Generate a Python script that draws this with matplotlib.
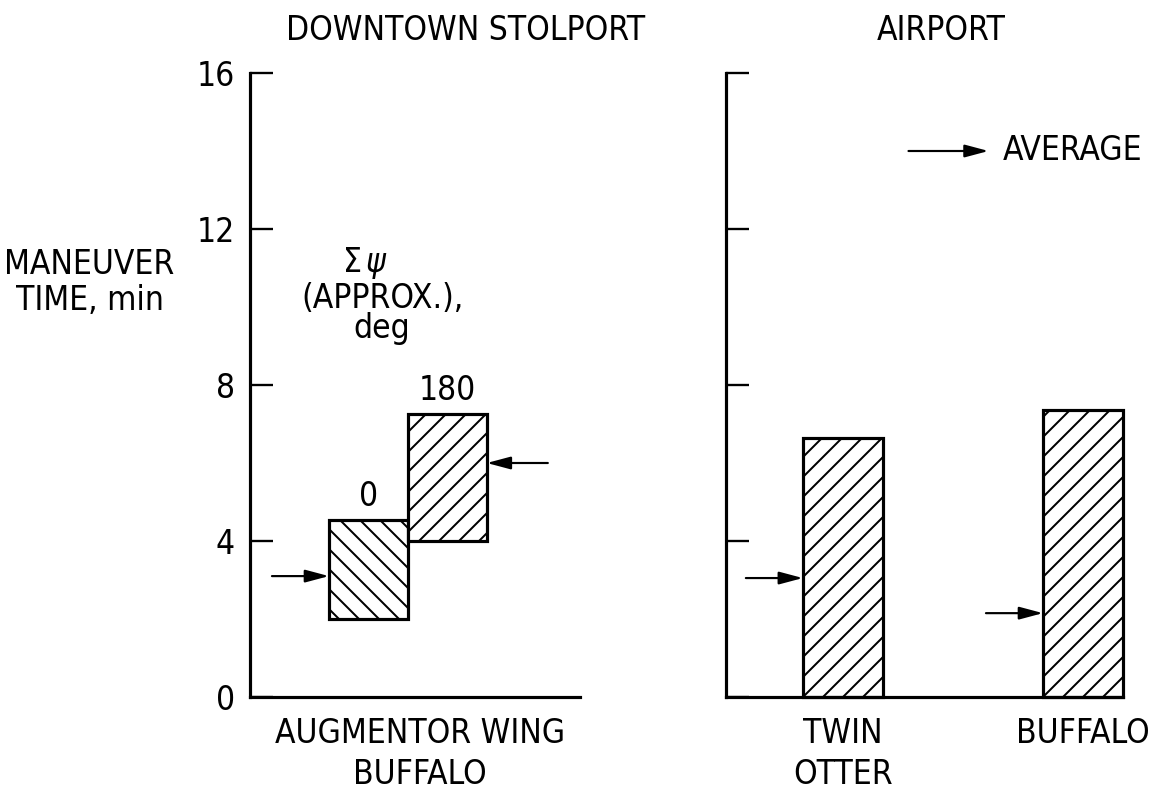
import matplotlib
matplotlib.use('Agg')
from matplotlib import pyplot as plt

# Werte
stol_psi = ['0', '180']
stol_low = [2.0, 4.0]
stol_high = [4.55, 7.25]
stol_avg = [3.1, 6.0]
stol_arrow_side = ['left', 'right']

airport_names = ['TWIN\nOTTER', 'BUFFALO']
airport_high = [6.65, 7.35]
airport_avg = [3.05, 2.15]

yticks = [0, 4, 8, 12, 16]

plt.rcParams['font.family'] = ['DejaVu Sans']
plt.rcParams['font.stretch'] = 'condensed'
plt.rcParams['font.size'] = 20
plt.rcParams['hatch.linewidth'] = 1.2
plt.rcParams['hatch.color'] = 'black'

W, H = 1153, 795
dpi = 120
fig = plt.figure(figsize=(W/dpi, H/dpi), dpi=dpi)


def px(x, y):
   # Pixel (von oben links) -> Figure-Koordinaten
   return x/W, 1.0 - y/H


bot = (H - 697)/H
hoehe = 624/H
ax1 = fig.add_axes([250/W, bot, 330/W, hoehe])
ax2 = fig.add_axes([726/W, bot, 397/W, hoehe])

pfeil = dict(arrowstyle='-|>,head_length=0.6,head_width=0.16', color='black',
             lw=1.3, shrinkA=0, shrinkB=0, mutation_scale=20)

for ax in [ax1, ax2]:
   ax.set_ylim(0, 16)
   ax.spines['top'].set_visible(False)
   ax.spines['right'].set_visible(False)
   ax.spines['left'].set_linewidth(1.9)
   ax.spines['bottom'].set_linewidth(1.9)
   ax.set_yticks(yticks)
   ax.tick_params(axis='y', direction='in', length=14, width=1.4, pad=9)
   ax.tick_params(axis='x', length=0, pad=12)

# Downtown STOLport
breite = 1.0
xpos = list(range(len(stol_low)))
hoehen = [h - l for h, l in zip(stol_high, stol_low)]
ax1.bar(xpos[0], hoehen[0], bottom=stol_low[0], width=breite, color='white',
        edgecolor='black', linewidth=1.9, hatch='\\\\', clip_on=False)
ax1.bar(xpos[1], hoehen[1], bottom=stol_low[1], width=breite, color='white',
        edgecolor='black', linewidth=1.9, hatch='//', clip_on=False)
for x, h, lab in zip(xpos, stol_high, stol_psi):
   ax1.annotate(lab, xy=(x, h), xytext=(0, 14), textcoords='offset pixels',
                ha='center', va='baseline')
for x, a, seite in zip(xpos, stol_avg, stol_arrow_side):
   if seite == 'left':
      ax1.annotate('', xy=(x - breite/2, a), xytext=(-57, 0),
                   textcoords='offset pixels', arrowprops=pfeil)
   else:
      ax1.annotate('', xy=(x + breite/2, a), xytext=(61, 0),
                   textcoords='offset pixels', arrowprops=pfeil)
ax1.set_xlim(-1.5, 2.68)
ax1.set_xticks([0.65])
ax1.set_xticklabels(['AUGMENTOR WING\nBUFFALO'], linespacing=1.3)

# Airport
apos = [0, 3]
ax2.bar(apos, airport_high, width=breite, color='white', edgecolor='black',
        linewidth=1.9, hatch='//', clip_on=False)
for x, a in zip(apos, airport_avg):
   ax2.annotate('', xy=(x - breite/2, a), xytext=(-57, 0),
                textcoords='offset pixels', arrowprops=pfeil)
ax2.set_xlim(-1.46, 3.5)
ax2.set_yticklabels([])
ax2.set_xticks(apos)
ax2.set_xticklabels(airport_names, linespacing=1.3)

# Legende "AVERAGE"
ax2.annotate('', xy=(1.82, 14.0), xytext=(0.82, 14.0), arrowprops=pfeil)
ax2.text(2.0, 14.0, 'AVERAGE', va='center')

# Beschriftungen
fig.text(*px(466, 40), 'DOWNTOWN STOLPORT', ha='center', va='baseline')
fig.text(*px(941, 40), 'AIRPORT', ha='center', va='baseline')
fig.text(*px(89, 274), 'MANEUVER', ha='center', va='baseline')
fig.text(*px(90, 310), 'TIME, min', ha='center', va='baseline')
fig.text(*px(365, 272), r'$\Sigma\,\psi$', ha='center', va='baseline')
fig.text(*px(383, 308), '(APPROX.),', ha='center', va='baseline')
fig.text(*px(382, 338), 'deg', ha='center', va='baseline')

fig.savefig('out.png', dpi=dpi)
